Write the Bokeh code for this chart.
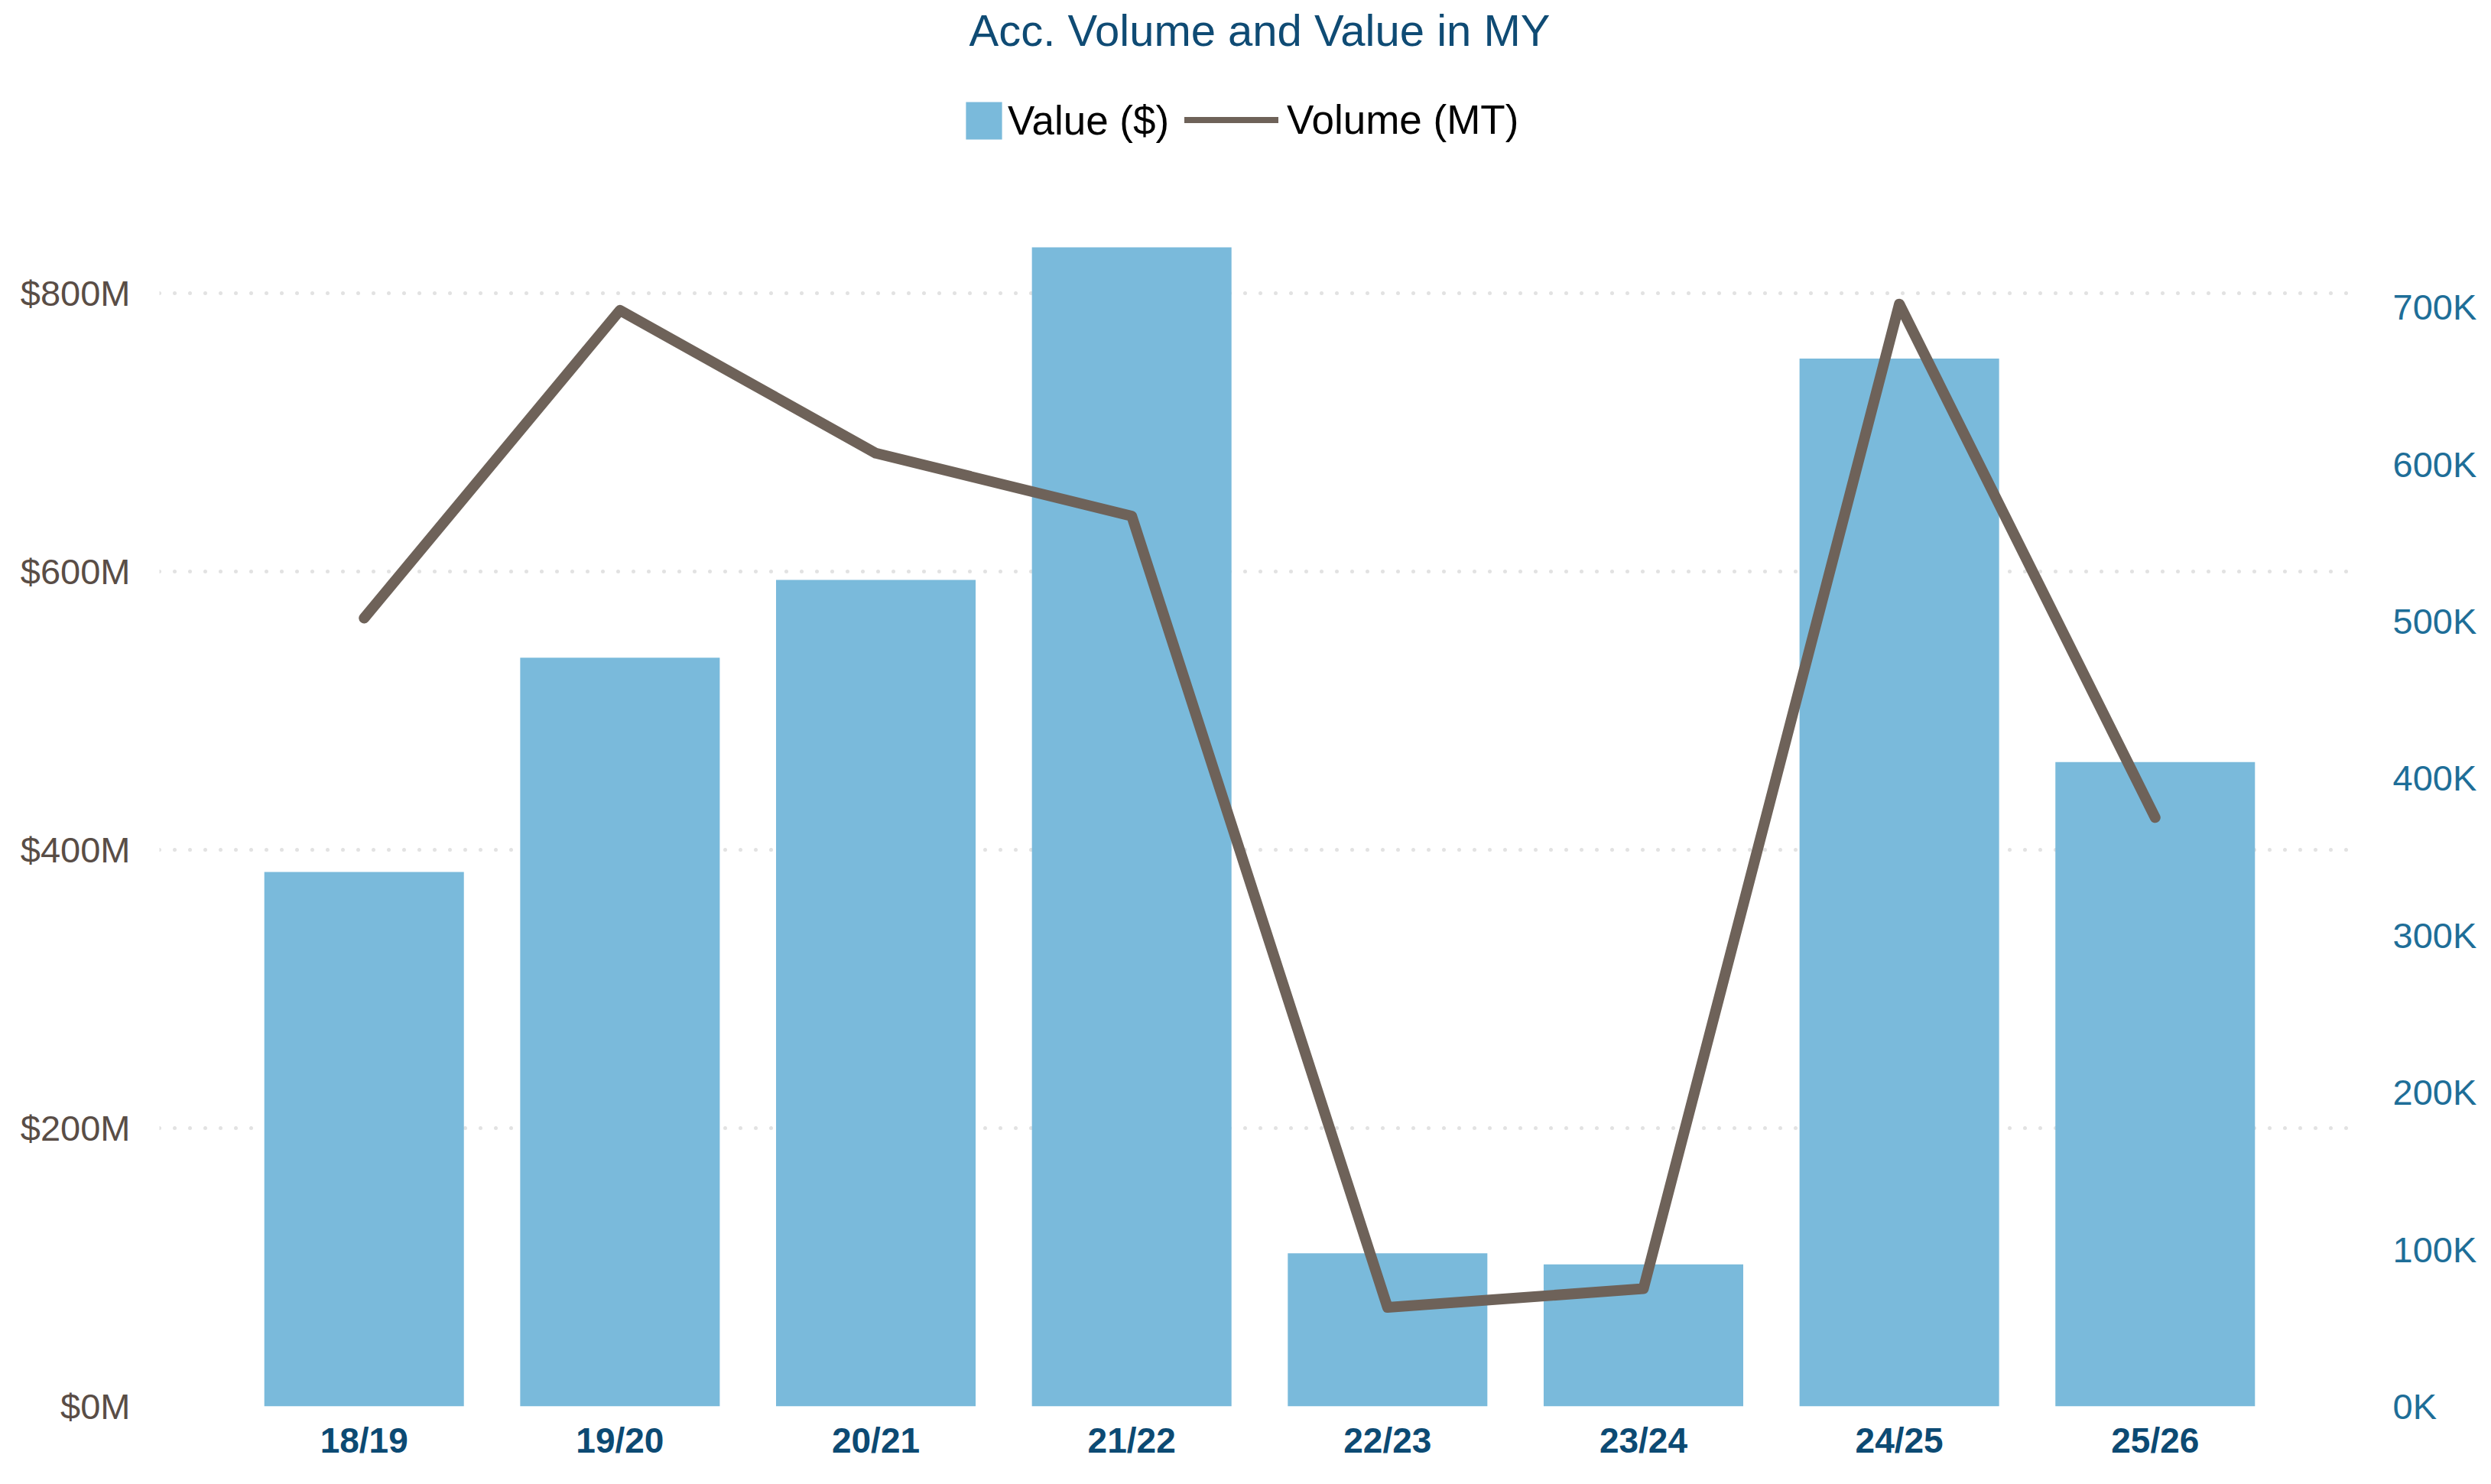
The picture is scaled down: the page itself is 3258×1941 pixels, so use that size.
from bokeh.plotting import figure
from bokeh.models import (FactorRange, Range1d, LinearAxis, FixedTicker, Legend,
                          LegendItem, ColumnDataSource)
from bokeh.embed import file_html
from bokeh.resources import INLINE

# ---- data ----
seasons = ["18/19", "19/20", "20/21", "21/22", "22/23", "23/24", "24/25", "25/26"]
value_musd = [384, 538, 594, 833, 110, 102, 753, 463]          # $ millions
volume_mt = [502000, 698000, 607000, 567000, 63000, 75000, 702000, 375000]

value_ticks = [0, 200, 400, 600, 800]
value_tick_labels = ["$0M", "$200M", "$400M", "$600M", "$800M"]
volume_ticks = [0, 100000, 200000, 300000, 400000, 500000, 600000, 700000]
volume_tick_labels = ["0K", "100K", "200K", "300K", "400K", "500K", "600K", "700K"]

title_text = "Acc. Volume and Value in MY"
value_label = "Value ($)"
volume_label = "Volume (MT)"

FONT = "Liberation Sans"
BAR_COLOR = "#7abadb"
LINE_COLOR = "#6e6259"

src = ColumnDataSource(dict(season=seasons, value=value_musd, volume=volume_mt))

p = figure(width=3242, height=1925,
           x_range=FactorRange(factors=seasons, range_padding=0.075,
                               range_padding_units="percent"),
           y_range=Range1d(0, 971.4),
           output_backend="svg", toolbar_location=None,
           min_border_left=208, min_border_right=153,
           min_border_top=71, min_border_bottom=86)
p.extra_y_ranges = {"vol": Range1d(0, 860800)}

p.outline_line_color = None
p.background_fill_color = "white"
p.border_fill_color = "white"

# title
p.title.text = title_text
p.title.align = "center"
p.title.text_font = FONT
p.title.text_font_size = "58px"
p.title.text_font_style = "normal"
p.title.text_color = "#0f4b74"
p.title.standoff = 0

# glyphs
bars = p.vbar(x="season", top="value", width=0.78, source=src,
              fill_color=BAR_COLOR, line_color=None)
# thinner copy of the line (fully hidden under the main line) used as legend glyph
legend_line = p.line(x="season", y="volume", source=src, y_range_name="vol",
                     line_width=8, line_color=LINE_COLOR,
                     line_join="round", line_cap="round")
line = p.line(x="season", y="volume", source=src, y_range_name="vol",
              line_width=14, line_color=LINE_COLOR,
              line_join="round", line_cap="round")

# x axis
xa = p.xaxis[0]
xa.axis_line_color = None
xa.major_tick_line_color = None
xa.minor_tick_line_color = None
xa.major_label_standoff = 12
xa.major_label_text_font = FONT
xa.major_label_text_font_size = "46px"
xa.major_label_text_font_style = "bold"
xa.major_label_text_color = "#0c4a73"
p.xgrid.visible = False

# left axis
ya = p.yaxis[0]
ya.ticker = FixedTicker(ticks=value_ticks)
ya.major_label_overrides = dict(zip(value_ticks, value_tick_labels))
ya.axis_line_color = None
ya.major_tick_line_color = None
ya.minor_tick_line_color = None
ya.major_label_standoff = 32
ya.major_label_text_font = FONT
ya.major_label_text_font_size = "47px"
ya.major_label_text_color = "#594d46"

g = p.ygrid[0]
g.ticker = FixedTicker(ticks=value_ticks)
g.grid_line_color = "#e2e2e2"
g.grid_line_width = 5
g.grid_line_dash = "0 20"
g.grid_line_cap = "round"

# right axis
ra = LinearAxis(y_range_name="vol", ticker=FixedTicker(ticks=volume_ticks),
                major_label_overrides=dict(zip(volume_ticks, volume_tick_labels)))
ra.axis_line_color = None
ra.major_tick_line_color = None
ra.minor_tick_line_color = None
ra.major_label_standoff = 37
ra.major_label_text_font = FONT
ra.major_label_text_font_size = "47px"
ra.major_label_text_color = "#1e6e98"
p.add_layout(ra, "right")

# legends (inside the frame, above the bars)
common = dict(orientation="horizontal", padding=0, margin=0,
              border_line_color=None, background_fill_alpha=0,
              label_text_font=FONT, label_text_font_size="53px",
              label_text_color="black", glyph_height=61, label_height=61)
leg1 = Legend(items=[LegendItem(label=value_label, renderers=[bars])],
              location=(1049, 1651), glyph_width=59, label_standoff=2, **common)
leg2 = Legend(items=[LegendItem(label=volume_label, renderers=[legend_line])],
              location=(1341, 1652), glyph_width=123, label_standoff=11, **common)
p.add_layout(leg1)
p.add_layout(leg2)

open("out.html", "w").write(file_html(p, INLINE))
